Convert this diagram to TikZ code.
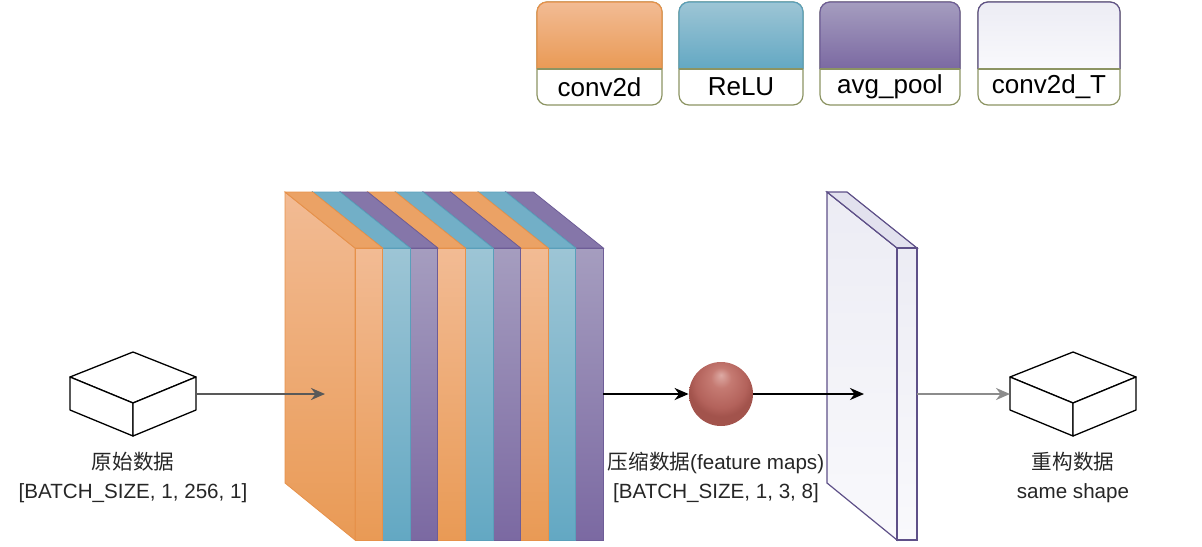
\documentclass[tikz,border=0pt]{standalone}
\usepackage{fontspec}
\setmainfont{Liberation Sans}
\newfontfamily\cjk{Noto Sans CJK SC}
\usetikzlibrary{arrows.meta}

\definecolor{or1}{HTML}{F2BB94}
\definecolor{or2}{HTML}{E99A55}
\definecolor{or3}{HTML}{E6914A}
\definecolor{bl1}{HTML}{9DC5D5}
\definecolor{bl2}{HTML}{63A8C3}
\definecolor{bl3}{HTML}{5A9FBA}
\definecolor{pu1}{HTML}{A59DBF}
\definecolor{pu2}{HTML}{7B69A2}
\definecolor{pu3}{HTML}{6E5D97}
\definecolor{tr1}{HTML}{ECECF4}
\definecolor{tr2}{HTML}{F9F9FC}
\definecolor{tr3}{HTML}{5E5088}
\definecolor{tr4}{HTML}{E2E1EE}
\definecolor{olive}{HTML}{8C9463}
\definecolor{sphA}{HTML}{DDAAA4}
\definecolor{sphB}{HTML}{C57A72}
\definecolor{sphC}{HTML}{B3625B}
\definecolor{sphD}{HTML}{A2534C}
\pgfdeclareradialshading{fmball}{\pgfpoint{0bp}{15bp}}{color(0bp)=(sphA); color(8bp)=(sphB); color(20bp)=(sphC); color(25bp)=(sphD); color(50bp)=(sphD)}

\begin{document}
\begin{tikzpicture}[x=0.5pt,y=-0.5pt,
  lbl/.style={align=center,text=black!85,font=\fontsize{10.3}{14.5}\selectfont},
  legtxt/.style={font=\fontsize{13}{15}\selectfont},
  arr/.style={-{Stealth[length=7pt,width=6pt]},line width=1.2pt},
  cube/.style={fill=white,draw=black,line width=0.65pt,line join=round}]

\useasboundingbox (0,0) rectangle (1202,546);

% legend boxes
\foreach \xa/\xb/\col/\txt/\nm in {537/662/or/conv2d/lgconv, 679/803/bl/ReLU/lgrelu, 820/960/pu/avg\_pool/lgpool, 978/1120/tr/conv2d\_T/lgtrans}{
  \draw[olive,fill=white,rounded corners=5,line width=0.6pt] (\xa,2) rectangle (\xb,105);
  \draw[\col3,top color=\col1,bottom color=\col2,rounded corners=5,line width=0.6pt] (\xa,69) -- (\xa,2) -- (\xb,2) -- (\xb,69);
  \draw[olive,line width=0.6pt] (\xa,69) -- (\xb,69);
  \node[legtxt] (\nm) at ({(\xa+\xb)/2},87) {\txt};
}

% encoder layers, back to front
\foreach \i/\col in {8/pu,7/bl,6/or,5/pu,4/bl,3/or,2/pu,1/bl,0/or}{
  \pgfmathsetmacro\xf{355+27.6*\i}
  \pgfmathsetmacro\xr{\xf+27.6}
  \draw[\col3,line width=0.4pt,top color=\col1,bottom color=\col2] (\xf,248) -- ({\xf-70},192) -- ({\xf-70},483) -- (\xf,540) -- cycle;
  \draw[\col3,line width=0.4pt,fill=\col2!75!\col1] (\xf,248) -- ({\xf-70},192) -- ({\xr-70},192) -- (\xr,248) -- cycle;
  \draw[\col3,line width=0.4pt,top color=\col1,bottom color=\col2] (\xf,248) rectangle (\xr,540);
}

% decoder layer
\draw[tr3,line width=0.6pt,top color=tr1,bottom color=tr2] (897,248) -- (827,192) -- (827,483) -- (897,540) -- cycle;
\draw[tr3,line width=0.6pt,fill=tr4] (897,248) -- (827,192) -- (847,192) -- (917,248) -- cycle;
\draw[tr3,line width=0.6pt,top color=tr1,bottom color=tr2] (897,248) rectangle (917,540);

% data boxes
\foreach \cx in {133,1073}{
  \draw[cube] (\cx,352) -- ({\cx+63},377) -- (\cx,403) -- ({\cx-63},377) -- cycle;
  \draw[cube] ({\cx-63},377) -- (\cx,403) -- (\cx,436) -- ({\cx-63},410) -- cycle;
  \draw[cube] (\cx,403) -- ({\cx+63},377) -- ({\cx+63},410) -- (\cx,436) -- cycle;
}

% feature maps
\node[circle,minimum size=32pt,inner sep=0pt,shading=fmball] (fmap) at (721,394) {};

\coordinate (inR) at (196,394);
\coordinate (stackIn) at (325,394);
\coordinate (stackOut) at (603,394);
\coordinate (planeIn) at (864,394);
\coordinate (planeOut) at (917,394);
\coordinate (outL) at (1010,394);

% arrows
\draw[arr,black!65] (inR) -- (stackIn);
\draw[arr] (stackOut) -- (fmap);
\draw[arr] (fmap) -- (planeIn);
\draw[arr,black!45] (planeOut) -- (outL);

% labels
\node[lbl] (inlbl) at (133,477) {{\cjk 原始数据}\\{}[BATCH\_SIZE, 1, 256, 1]};
\node[lbl] (fmlbl) at (716,477) {{\cjk 压缩数据}(feature maps)\\{}[BATCH\_SIZE, 1, 3, 8]};
\node[lbl] (outlbl) at (1073,477) {{\cjk 重构数据}\\same shape};

\end{tikzpicture}
\end{document}
